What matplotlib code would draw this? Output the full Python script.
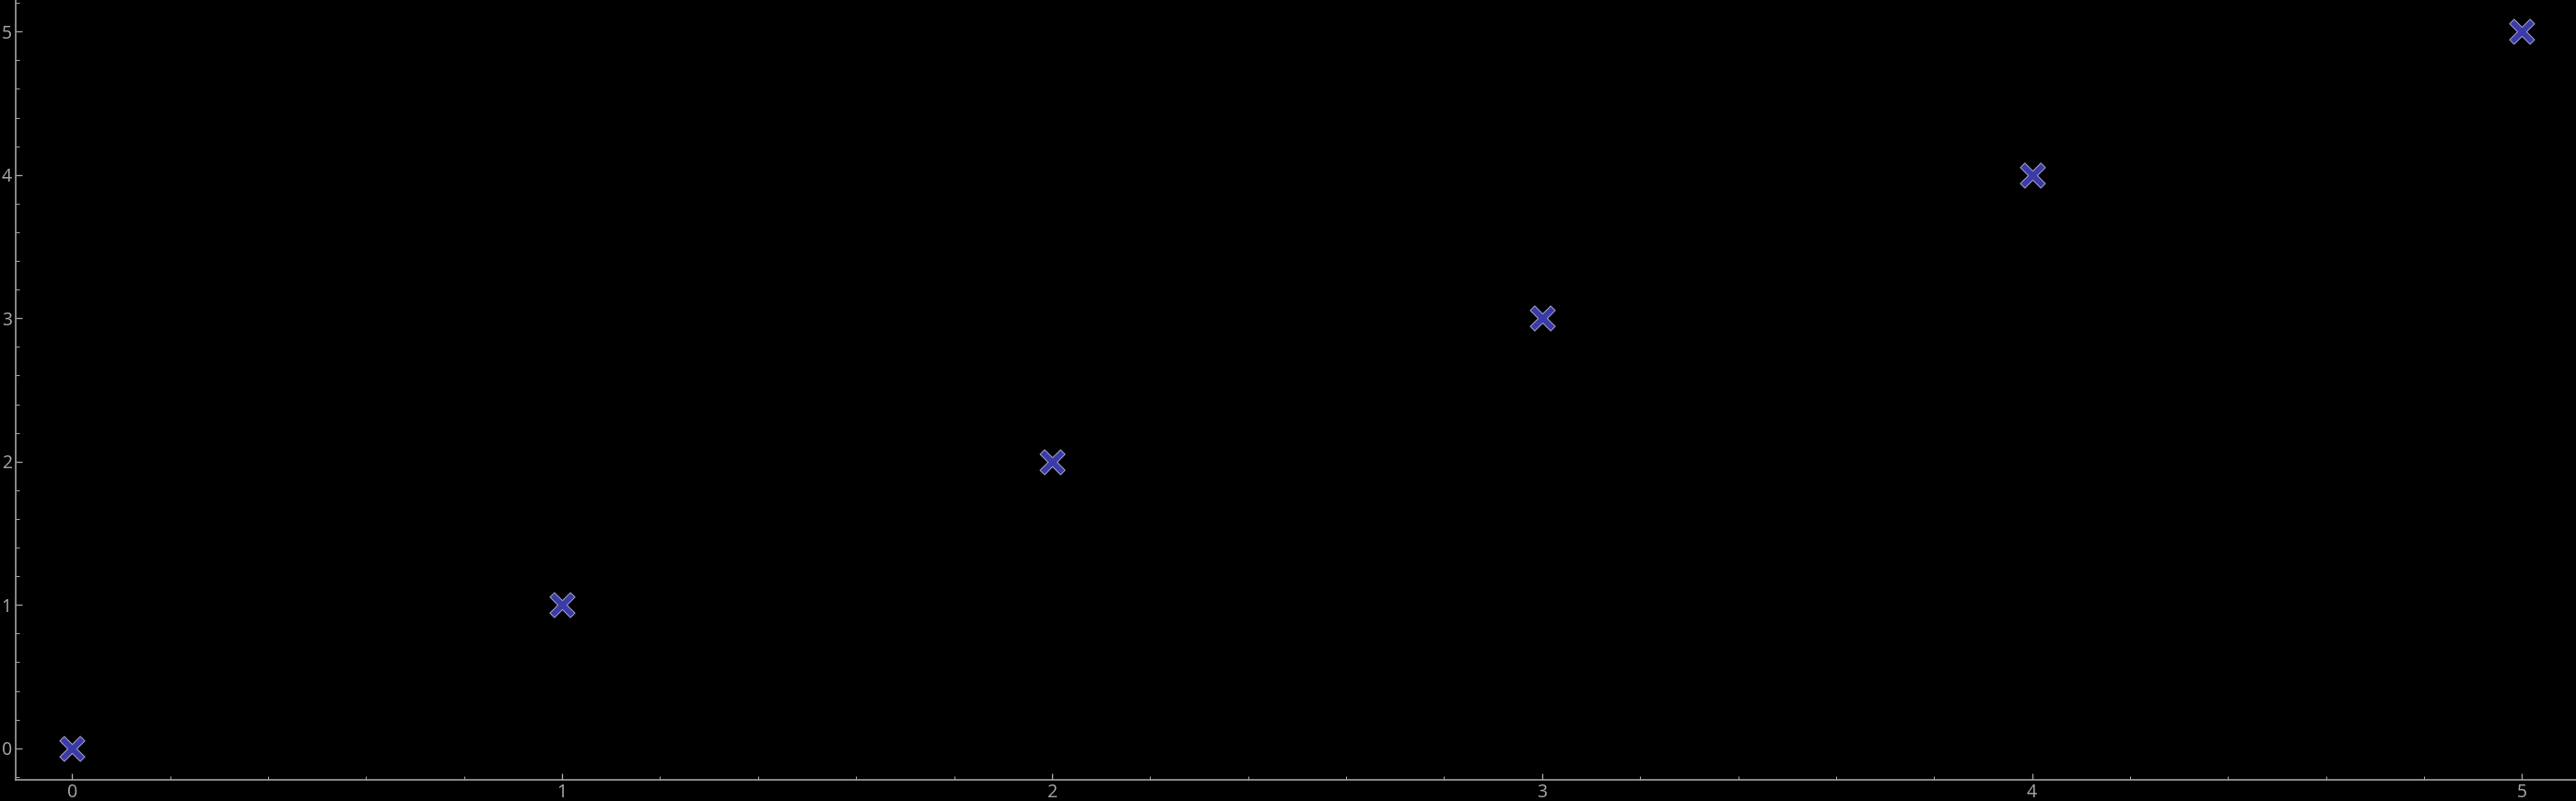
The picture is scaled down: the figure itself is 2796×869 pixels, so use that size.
import matplotlib
matplotlib.use("Agg")
import matplotlib.pyplot as plt
import numpy as np
from matplotlib.ticker import MultipleLocator
from matplotlib.path import Path

x_values = [0, 1, 2, 3, 4, 5]
y_values = [0, 1, 2, 3, 4, 5]

# thin "X" marker shape
t, L = 0.22, 1.0
plus = np.array([(t, t), (t, L), (-t, L), (-t, t), (-L, t), (-L, -t),
                 (-t, -t), (-t, -L), (t, -L), (t, -t), (L, -t), (L, t), (t, t)])
c, s = np.cos(np.pi / 4), np.sin(np.pi / 4)
rot = plus @ np.array([[c, s], [-s, c]])
codes = [Path.MOVETO] + [Path.LINETO] * (len(rot) - 2) + [Path.CLOSEPOLY]
x_marker = Path(rot, codes)

fig = plt.figure(figsize=(27.96, 8.69), dpi=100, facecolor="black")
ax = fig.add_axes([17 / 2796, 23 / 869, 1 - 17 / 2796, 1 - 23 / 869])
ax.set_facecolor("black")

ax.scatter(x_values, y_values, marker=x_marker, s=380, color="#3a3aa8",
           edgecolors="#9a9ac0", linewidths=0.8, zorder=3)

ax.set_xlim(-0.115, 5.11)
ax.set_ylim(-0.22, 5.22)
ax.xaxis.set_major_locator(MultipleLocator(1))
ax.yaxis.set_major_locator(MultipleLocator(1))
ax.xaxis.set_minor_locator(MultipleLocator(0.2))
ax.yaxis.set_minor_locator(MultipleLocator(0.2))

for side in ["top", "right"]:
    ax.spines[side].set_visible(False)
for side in ["left", "bottom"]:
    ax.spines[side].set_color("#a0a0a0")
    ax.spines[side].set_linewidth(1.2)

ax.tick_params(which="major", direction="in", length=5, width=1, color="#a0a0a0",
               labelcolor="#a0a0a0", labelsize=14, pad=3)
ax.tick_params(which="minor", direction="in", length=3, width=0.8, color="#a0a0a0")
for lab in ax.get_xticklabels() + ax.get_yticklabels():
    lab.set_family("Noto Sans")

fig.savefig("out.png", dpi=100, facecolor="black")
